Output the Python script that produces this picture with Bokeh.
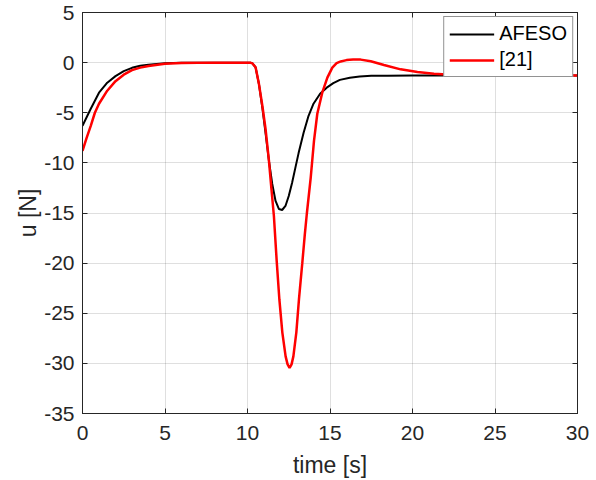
from bokeh.plotting import figure
from bokeh.models import Range1d, LinearAxis, FixedTicker, Legend, LegendItem, CustomJSTickFormatter
from bokeh.embed import file_html
from bokeh.resources import INLINE

# AFESO series
t_afeso = [0, 0.5, 1.0, 1.5, 2.0, 2.5, 3.0, 3.5, 4.0, 5.0, 6.0, 8.0, 10.0, 10.2, 10.3, 10.49,
           10.69, 10.9, 11.1, 11.3, 11.5, 11.7, 11.9, 12.1, 12.3, 12.5, 12.7, 12.9, 13.1, 13.4,
           13.7, 14.0, 14.4, 14.8, 15.2, 15.6, 16.2, 16.8, 17.5, 18.5, 20.0, 25.0, 30.0]
u_afeso = [-6.3, -4.6, -3.0, -2.0, -1.35, -0.85, -0.52, -0.32, -0.2, -0.07, -0.02, 0.0, 0.0, -0.02, -0.08, -0.47,
           -2.1, -4.5, -7.1, -9.8, -12.1, -13.8, -14.6, -14.7, -14.3, -13.3, -12.0, -10.5, -9.0, -7.0,
           -5.3, -4.1, -3.1, -2.5, -2.05, -1.72, -1.5, -1.38, -1.32, -1.3, -1.29, -1.28, -1.28]

# [21] series
t_ref = [0, 0.25, 0.5, 0.75, 1.0, 1.5, 2.0, 2.5, 3.0, 3.5, 4.0, 5.0, 6.0, 8.0, 10.0, 10.2, 10.3,
         10.49, 10.69, 10.9, 11.1, 11.3, 11.45, 11.6, 11.77, 11.93, 12.11, 12.31, 12.43, 12.55,
         12.67, 12.78, 12.96, 13.12, 13.32, 13.47, 13.6, 13.83, 14.03, 14.23, 14.53, 14.84, 15.14,
         15.4, 15.65, 16.0, 16.4, 16.86, 17.47, 18.27, 19.28, 20.3, 21.3, 22.3, 23.3, 25.3, 27.0, 30.0]
u_ref = [-8.8, -7.5, -6.3, -5.0, -4.1, -2.8, -1.85, -1.2, -0.75, -0.5, -0.33, -0.12, -0.04, 0.0, 0.0, -0.02, -0.08,
         -0.47, -2.1, -4.3, -6.7, -9.8, -12.6, -15.3, -19.8, -23.6, -26.9, -29.3, -30.1, -30.45,
         -30.1, -29.3, -26.9, -23.6, -20.0, -17.2, -15.0, -11.5, -7.8, -5.1, -3.0, -1.5, -0.5,
         -0.05, 0.12, 0.25, 0.3, 0.3, 0.13, -0.23, -0.67, -0.93, -1.1, -1.2, -1.23, -1.27, -1.28, -1.28]

x_ticks = [0, 5, 10, 15, 20, 25, 30]
y_ticks = [5, 0, -5, -10, -15, -20, -25, -30, -35]

FONT = "Liberation Sans"
AX = "#262626"

p = figure(width=596, height=480, output_backend="svg", toolbar_location=None,
           x_range=Range1d(0, 30), y_range=Range1d(-35, 5),
           min_border_left=82, min_border_right=19, min_border_top=12, min_border_bottom=66)
p.background_fill_color = "white"
p.border_fill_color = "white"
p.outline_line_color = AX
p.outline_line_width = 1

l1 = p.line(t_afeso, u_afeso, line_color="black", line_width=2)
l2 = p.line(t_ref, u_ref, line_color="#ff0000", line_width=2.5)

plain = CustomJSTickFormatter(code="return tick.toString();")
blank = CustomJSTickFormatter(code="return '';")

for ax in (p.xaxis[0], p.yaxis[0]):
    ax.axis_line_color = AX
    ax.major_tick_line_color = AX
    ax.major_tick_in = 5
    ax.major_tick_out = 0
    ax.minor_tick_line_color = None
    ax.major_label_text_font = FONT
    ax.major_label_text_font_size = "21px"
    ax.major_label_text_color = AX
    ax.axis_label_text_font = FONT
    ax.axis_label_text_font_size = "23px"
    ax.axis_label_text_font_style = "normal"
    ax.axis_label_text_color = AX
    ax.formatter = plain

p.xaxis[0].ticker = FixedTicker(ticks=x_ticks)
p.yaxis[0].ticker = FixedTicker(ticks=y_ticks)
p.xaxis[0].axis_label = "time [s]"
p.yaxis[0].axis_label = "u [N]"
p.xaxis[0].major_label_standoff = 12
p.yaxis[0].major_label_standoff = 8
p.xaxis[0].axis_label_standoff = 9
p.yaxis[0].axis_label_standoff = 0

# mirror ticks on top and right
top = LinearAxis(ticker=FixedTicker(ticks=x_ticks), formatter=blank,
                 major_tick_in=5, major_tick_out=0, minor_tick_line_color=None,
                 axis_line_color=AX, major_tick_line_color=AX, major_label_standoff=0)
right = LinearAxis(ticker=FixedTicker(ticks=y_ticks), formatter=blank,
                   major_tick_in=5, major_tick_out=0, minor_tick_line_color=None,
                   axis_line_color=AX, major_tick_line_color=AX, major_label_standoff=0)
p.add_layout(top, "above")
p.add_layout(right, "right")

p.xgrid.ticker = FixedTicker(ticks=x_ticks)
p.ygrid.ticker = FixedTicker(ticks=y_ticks)
for g in (p.xgrid[0], p.ygrid[0]):
    g.grid_line_color = AX
    g.grid_line_alpha = 0.15
    g.grid_line_width = 1

legend = Legend(items=[LegendItem(label="AFESO", renderers=[l1]),
                       LegendItem(label="[21]", renderers=[l2])],
                location="top_right")
legend.margin = 4
legend.padding = 5
legend.spacing = 3
legend.glyph_width = 45
legend.glyph_height = 22
legend.label_height = 22
legend.label_standoff = 5
legend.label_text_font = FONT
legend.label_text_font_size = "20px"
legend.label_text_color = "black"
legend.border_line_color = AX
legend.border_line_width = 1
legend.background_fill_color = "white"
legend.background_fill_alpha = 1
p.add_layout(legend)

open("out.html", "w").write(file_html(p, INLINE))
